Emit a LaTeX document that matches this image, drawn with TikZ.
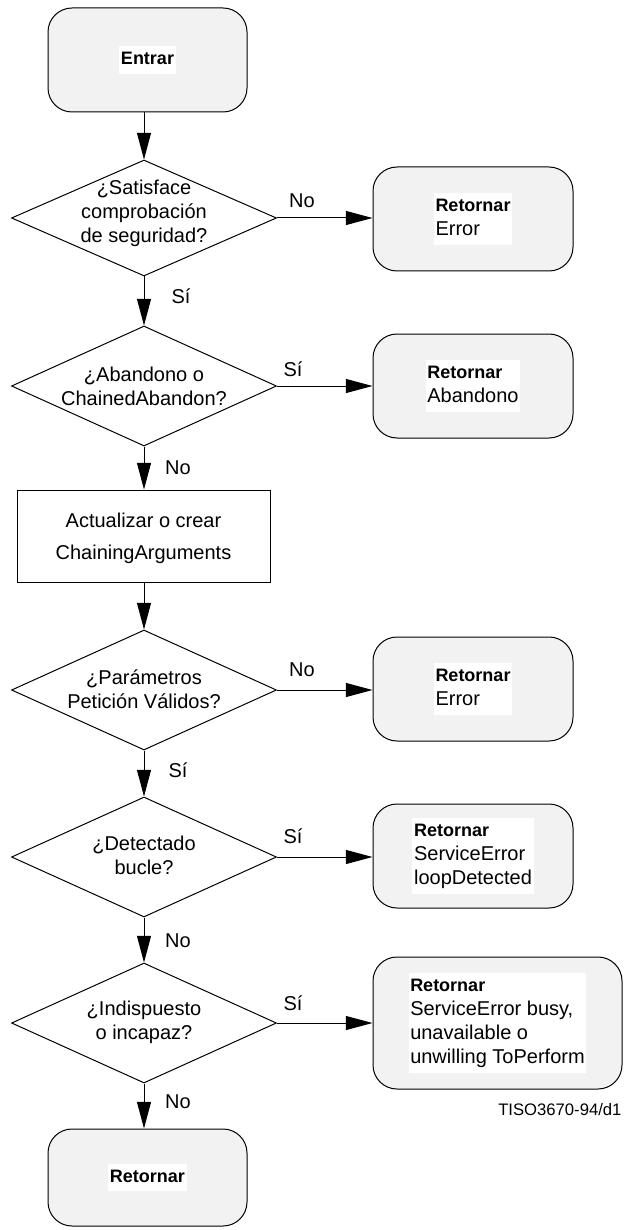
\documentclass[tikz,border=0pt]{standalone}
\usepackage{fontspec}
\setmainfont{Liberation Sans}
\usetikzlibrary{shapes.geometric,arrows.meta}
\definecolor{boxgray}{RGB}{242,242,242}
\newcommand{\wtext}[1]{{\setlength{\fboxsep}{1.2pt}\colorbox{white}{\begin{tabular}{@{}l@{}}#1\end{tabular}}}}
\newcommand{\rb}[1]{{\fontsize{13.5}{18}\selectfont\textbf{#1}}}
\begin{document}
\begin{tikzpicture}[x=0.75pt,y=-0.75pt, font=\fontsize{15}{18}\selectfont, line width=0.75pt,
 rbox/.style={draw, fill=boxgray, rounded corners=18pt, inner sep=0pt, minimum width=150pt, minimum height=78pt},
 dia/.style={draw, diamond, inner sep=0pt, minimum width=198.75pt, minimum height=90pt},
 pbox/.style={draw, inner sep=0pt, minimum width=189.75pt, minimum height=69pt},
 arr/.style={-{Triangle[length=20pt,width=10.5pt]}},
 dtext/.style={align=center, inner sep=0pt},
 lbl/.style={inner sep=0pt}]
\useasboundingbox (0,0) rectangle (624,1230);
% start
\node[rbox, minimum width=149.25pt] (start) at (147.5,60) {\wtext{\rb{Entrar}}};
% decisions
\node[dia, minimum height=87pt] (d1) at (144,218) {};
\node[dtext] (t1) at (144,213) {¿Satisface\\comprobación\\de seguridad?};
\node[dia] (d2) at (144,386) {};
\node[dtext] (t2) at (144,386) {¿Abandono o\\ChainedAbandon?};
\node[pbox] (p1) at (143.5,536) {};
\node[dtext] (tp) at (143.5,538) {Actualizar o crear\\[6pt]ChainingArguments};
\node[dia] (d3) at (144,690) {};
\node[dtext] (t3) at (144,689) {¿Parámetros\\Petición Válidos?};
\node[dia] (d4) at (144,857) {};
\node[dtext] (t4) at (144,855) {¿Detectado\\bucle?};
\node[dia] (d5) at (144,1023) {};
\node[dtext] (t5) at (144,1022) {¿Indispuesto\\o incapaz?};
\node[rbox, minimum width=149.25pt, minimum height=72.75pt] (fin) at (147.5,1177.5) {\wtext{\rb{Retornar}}};
% return boxes
\node[rbox] (b1) at (473,219) {\wtext{\rb{Retornar}\\Error}};
\node[rbox] (b2) at (473,386) {\wtext{\rb{Retornar}\\Abandono}};
\node[rbox] (b3) at (473,689) {\wtext{\rb{Retornar}\\Error}};
\node[rbox] (b4) at (473,856) {\wtext{\rb{Retornar}\\ServiceError\\loopDetected}};
\node[rbox, minimum width=186.75pt, minimum height=99pt] (b5) at (497.5,1023) {\wtext{\rb{Retornar}\\ServiceError busy,\\unavailable o\\unwilling ToPerform}};
% vertical arrows
\draw[arr] (d1.north |- start.south) -- (d1.north);
\draw[arr] (d1.south) -- (d2.north);
\draw[arr] (d2.south) -- (d2.south |- p1.north);
\draw[arr] (d3.north |- p1.south) -- (d3.north);
\draw[arr] (d3.south) -- (d4.north);
\draw[arr] (d4.south) -- (d5.north);
\draw[arr] (d5.south) -- (d5.south |- fin.north);
% horizontal arrows
\draw[arr] (d1.east) -- (d1.east -| b1.west);
\draw[arr] (d2.east) -- (d2.east -| b2.west);
\draw[arr] (d3.east) -- (d3.east -| b3.west);
\draw[arr] (d4.east) -- (d4.east -| b4.west);
\draw[arr] (d5.east) -- (d5.east -| b5.west);
% labels
\node[lbl] (l1) at (302,201) {No};
\node[lbl] (l2) at (181,296) {Sí};
\node[lbl] (l3) at (293,369) {Sí};
\node[lbl] (l4) at (178,468) {No};
\node[lbl] (l5) at (302,670) {No};
\node[lbl] (l6) at (178,770) {Sí};
\node[lbl] (l7) at (293,836) {Sí};
\node[lbl] (l8) at (178,941) {No};
\node[lbl] (l9) at (293,1003) {Sí};
\node[lbl] (l10) at (178,1102) {No};
\node[lbl, anchor=east, font=\fontsize{12.5}{15}\selectfont] (ref) at (622,1110) {TISO3670-94/d1};
\end{tikzpicture}
\end{document}
